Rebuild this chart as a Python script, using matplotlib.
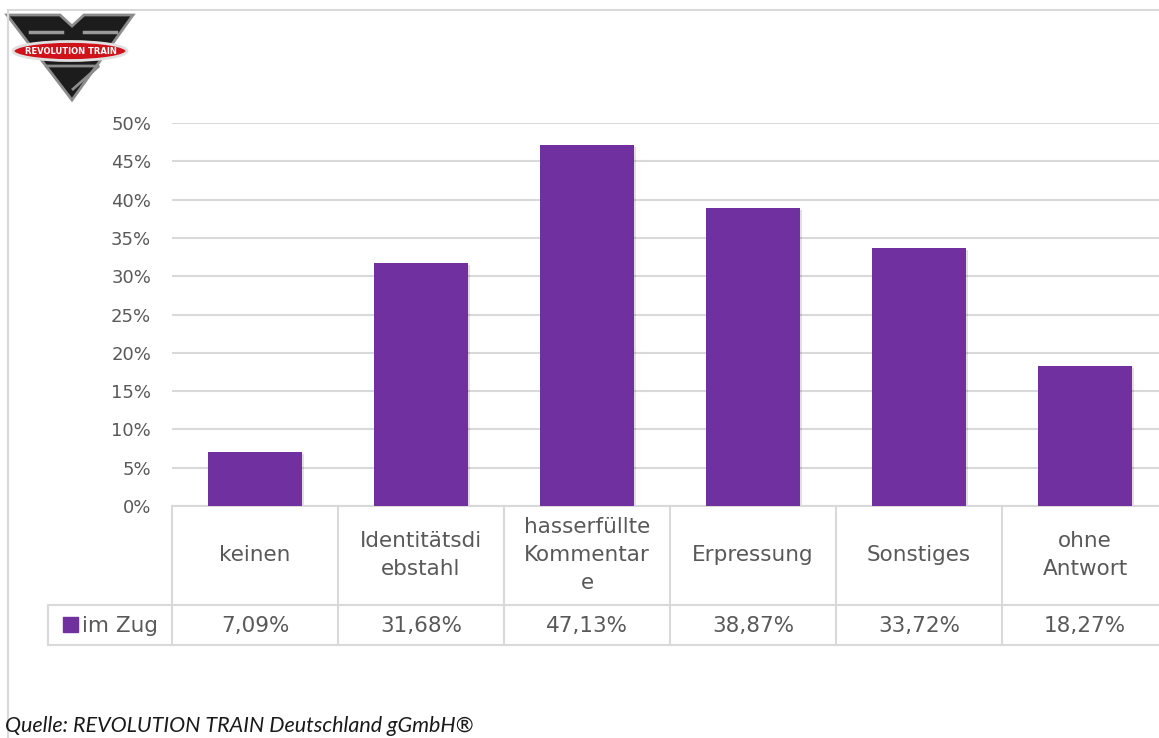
import matplotlib
matplotlib.use("Agg")
import matplotlib.pyplot as plt
from matplotlib.lines import Line2D
from matplotlib.patches import Polygon, Ellipse, Rectangle
from matplotlib.transforms import Affine2D

categories = ["keinen", "Identitätsdi\nebstahl", "hasserfüllte\nKommentar\ne",
              "Erpressung", "Sonstiges", "ohne\nAntwort"]
values = [7.09, 31.68, 47.13, 38.87, 33.72, 18.27]
value_labels = ["7,09%", "31,68%", "47,13%", "38,87%", "33,72%", "18,27%"]
series_name = "im Zug"
y_ticks = [0, 5, 10, 15, 20, 25, 30, 35, 40, 45, 50]
source_text = "Quelle: REVOLUTION TRAIN Deutschland gGmbH®"

W, H = 1159, 738
BAR_COLOR = "#7030A0"
TEXT_COLOR = "#595959"
GRID_COLOR = "#D9D9D9"

fig = plt.figure(figsize=(W / 100, H / 100), dpi=100)
# pixel coordinates, origin top-left
px = Affine2D().scale(1 / W, -1 / H).translate(0, 1) + fig.transFigure

x0, x1 = 172, 1168
y_zero, y_top = 506, 123
ax = fig.add_axes([x0 / W, 1 - y_zero / H, (x1 - x0) / W, (y_zero - y_top) / H])
ax.set_xlim(0, len(values))
ax.set_ylim(0, 50)
xs = [i + 0.5 for i in range(len(values))]
ax.bar(xs, values, width=0.57, color=BAR_COLOR, zorder=3)
# faint shadow
ax.bar([x + 0.012 for x in xs], values, width=0.57, bottom=-0.25,
       color="#000000", alpha=0.12, zorder=2)
ax.set_yticks(y_ticks)
ax.set_yticklabels([f"{t}%" for t in y_ticks], color=TEXT_COLOR, fontsize=13)
ax.yaxis.grid(True, color=GRID_COLOR, lw=1.5, zorder=0)
ax.set_xticks([])
ax.tick_params(axis="y", length=0, pad=15)
for s in ["top", "right", "left"]:
    ax.spines[s].set_visible(False)
ax.spines["bottom"].set_color(GRID_COLOR)
ax.spines["bottom"].set_linewidth(1.5)


def hline(y, xa, xb):
    fig.add_artist(Line2D([xa, xb], [y, y], transform=px, color=GRID_COLOR, lw=1.5))


def vline(x, ya, yb):
    fig.add_artist(Line2D([x, x], [ya, yb], transform=px, color=GRID_COLOR, lw=1.5))


# data table below the bars
col_w = (x1 - x0) / len(values)
row1, row2 = 605, 645
hline(row1, 48, x1)
hline(row2, 48, x1)
vline(48, row1, row2)
for i in range(len(values) + 1):
    vline(x0 + i * col_w, y_zero, row2)
for i, (cat, lab) in enumerate(zip(categories, value_labels)):
    cx = x0 + (i + 0.5) * col_w
    fig.text(cx / W, 1 - 555 / H, cat, ha="center", va="center",
             color=TEXT_COLOR, fontsize=15.5, linespacing=1.5)
    fig.text(cx / W, 1 - 626 / H, lab, ha="center", va="center",
             color=TEXT_COLOR, fontsize=15.5)
fig.add_artist(Rectangle((63, 617), 15, 15, transform=px, color=BAR_COLOR))
fig.text(82 / W, 1 - 626 / H, series_name, ha="left", va="center",
         color=TEXT_COLOR, fontsize=15.5)

# outer chart frame
hline(10, 8, W)
vline(8, 10, H)

# logo
fig.add_artist(Polygon([(7, 15), (60, 15), (72, 26), (84, 15), (133, 15), (72, 100)],
                       closed=True, transform=px, facecolor="#1c1c1c",
                       edgecolor="#8c8c8c", lw=2))
fig.add_artist(Line2D([30, 62], [32, 32], transform=px, color="#9a9a9a", lw=2.5))
fig.add_artist(Line2D([84, 116], [32, 32], transform=px, color="#9a9a9a", lw=2.5))
fig.add_artist(Polygon([(45, 66), (99, 66), (72, 90)], closed=False, transform=px,
                       facecolor="none", edgecolor="#8c8c8c", lw=2))
fig.add_artist(Ellipse((70, 51), 114, 19, transform=px,
                       facecolor="#d0121b", edgecolor="#e0e0e0", lw=2))
fig.text(71 / W, 1 - 51.5 / H, "REVOLUTION TRAIN", ha="center", va="center",
         color="white", fontsize=6, fontweight="bold", family="DejaVu Sans Condensed")

fig.text(5 / W, 1 - 732 / H, source_text, ha="left", va="baseline",
         fontsize=15.5, style="italic", color="#1a1a1a", family="Lato")

fig.savefig("out.png", dpi=100)
